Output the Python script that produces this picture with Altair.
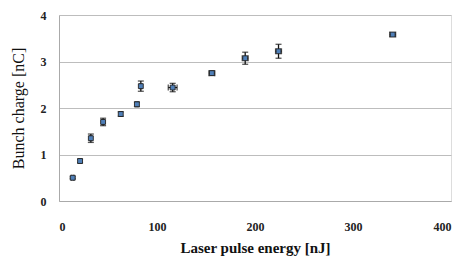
import altair as alt
import pandas as pd

energy = [14, 21.5, 32.5, 45, 63, 79.5, 83.5, 116, 156, 190, 224, 340.5]
charge = [0.50, 0.86, 1.35, 1.70, 1.87, 2.08, 2.47, 2.44, 2.75, 3.07, 3.22, 3.58]
charge_err = [0.02, 0.04, 0.09, 0.08, 0.05, 0.05, 0.11, 0.09, 0.05, 0.13, 0.15, 0.04]
energy_err = [1, 1, 1, 1, 1, 1, 1, 4.5, 3, 3, 3, 3]

df = pd.DataFrame({"e": energy, "q": charge, "qe": charge_err, "ee": energy_err})
df["qlo"] = df.q - df.qe
df["qhi"] = df.q + df.qe
df["elo"] = df.e - df.ee
df["ehi"] = df.e + df.ee

serif = "Liberation Serif"
xs = alt.Scale(domain=[0, 400], nice=False)
ys = alt.Scale(domain=[0, 4], nice=False)

xax = alt.Axis(title="Laser pulse energy [nJ]", values=[0, 100, 200, 300, 400], grid=False,
               ticks=False, labelPadding=20, labelFont=serif, labelFontWeight="bold",
               labelFontSize=12, labelColor="#222", titleFont=serif, titleFontSize=15,
               titleFontWeight="bold", titleColor="#111", titlePadding=8, domainColor="#aaa")
yax = alt.Axis(title="Bunch charge [nC]", values=[0, 1, 2, 3, 4], grid=True, gridColor="#bdbdbd",
               ticks=False, labelPadding=13, labelFont=serif, labelFontWeight="bold",
               labelFontSize=12, labelColor="#222", titleFont=serif, titleFontSize=16,
               titleFontWeight="normal", titleColor="#111", titlePadding=14, domainColor="#aaa")

base = alt.Chart(df)
vrule = base.mark_rule(color="#111", strokeWidth=1.3).encode(
    x=alt.X("e:Q", scale=xs, axis=xax), y=alt.Y("qlo:Q", scale=ys, axis=yax), y2="qhi:Q")
hrule = base.mark_rule(color="#111", strokeWidth=1.3).encode(
    x=alt.X("elo:Q", scale=xs), x2="ehi:Q", y=alt.Y("q:Q", scale=ys))
cap_lo = base.mark_tick(orient="horizontal", color="#111", size=6, thickness=1.3).encode(
    x=alt.X("e:Q", scale=xs), y=alt.Y("qlo:Q", scale=ys))
cap_hi = base.mark_tick(orient="horizontal", color="#111", size=6, thickness=1.3).encode(
    x=alt.X("e:Q", scale=xs), y=alt.Y("qhi:Q", scale=ys))
hcap_lo = base.mark_tick(orient="vertical", color="#111", size=6, thickness=1.3).encode(
    x=alt.X("elo:Q", scale=xs), y=alt.Y("q:Q", scale=ys))
hcap_hi = base.mark_tick(orient="vertical", color="#111", size=6, thickness=1.3).encode(
    x=alt.X("ehi:Q", scale=xs), y=alt.Y("q:Q", scale=ys))
pts = base.mark_point(shape="square", filled=True, size=24, color="#4f7fb8", opacity=1,
                      stroke="#222", strokeWidth=0.9).encode(
    x=alt.X("e:Q", scale=xs), y=alt.Y("q:Q", scale=ys))

chart = alt.layer(vrule, hrule, cap_lo, cap_hi, hcap_lo, hcap_hi, pts).properties(
    width=392, height=186, autosize=alt.AutoSizeParams(type="none"),
    padding={"left": 51, "top": 7, "right": 4, "bottom": 62}
).configure_view(stroke=None).configure(background="white")

chart.save("out.html", embed_options={"renderer": "svg", "actions": False})
